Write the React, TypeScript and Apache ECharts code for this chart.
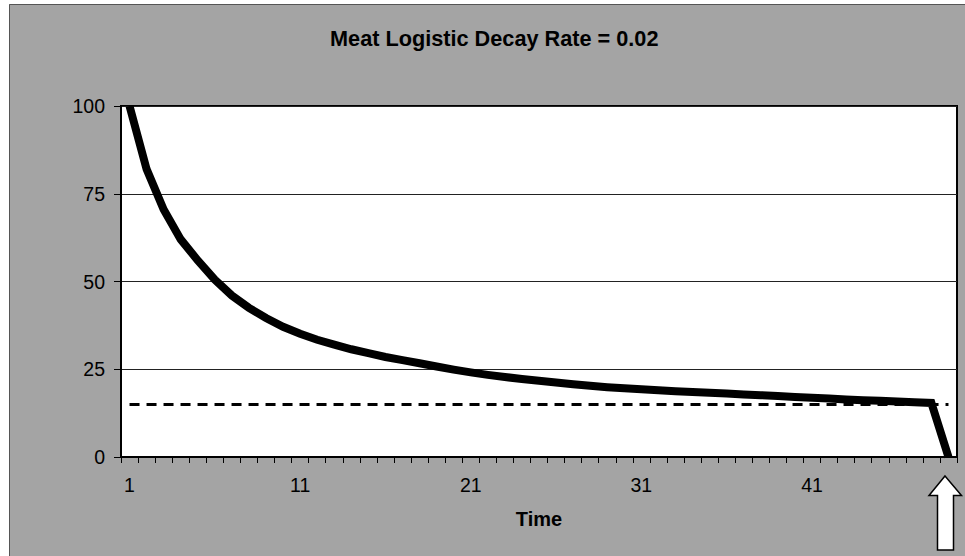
import React, { useEffect, useRef } from "react";
import * as echarts from "echarts";

const categories = [
  "1", "2", "3", "4", "5", "6", "7", "8", "9", "10",
  "11", "12", "13", "14", "15", "16", "17", "18", "19", "20",
  "21", "22", "23", "24", "25", "26", "27", "28", "29", "30",
  "31", "32", "33", "34", "35", "36", "37", "38", "39", "40",
  "41", "42", "43", "44", "45", "46", "47", "48", "49",
];

const meatValues = [
  100, 82, 70.5, 62, 56, 50.5, 46, 42.5, 39.6, 37.1,
  35.1, 33.4, 32, 30.7, 29.6, 28.5, 27.6, 26.7, 25.8, 24.9,
  24.1, 23.4, 22.8, 22.2, 21.7, 21.2, 20.7, 20.3, 19.9, 19.6,
  19.3, 19.0, 18.7, 18.5, 18.3, 18.1, 17.8, 17.6, 17.4, 17.1,
  16.9, 16.7, 16.4, 16.2, 16.0, 15.8, 15.6, 15.4, 0,
];

const thresholdValue = 15;
const yTicks = [0, 25, 50, 75, 100];
const titleText = "Meat Logistic Decay Rate = 0.02";
const xAxisName = "Time";

const FONT = "'Liberation Sans', Arial, sans-serif";
const BG = "#a4a4a4";

export default function App() {
  const ref = useRef<HTMLDivElement>(null);

  useEffect(() => {
    document.body.style.margin = "0";
    if (!ref.current) return;
    const chart = echarts.init(ref.current, undefined, { renderer: "svg" });
    chart.setOption({
      animation: false,
      backgroundColor: BG,
      textStyle: { fontFamily: FONT },
      title: {
        text: titleText,
        left: 330,
        top: 27,
        padding: 0,
        textStyle: {
          fontFamily: FONT,
          fontSize: 21.7,
          fontWeight: "bold",
          color: "#000",
        },
      },
      grid: {
        left: 121,
        top: 106,
        right: 8,
        bottom: 99,
        show: true,
        backgroundColor: "#ffffff",
        borderColor: "#000",
        borderWidth: 2,
      },
      xAxis: {
        type: "category",
        data: categories,
        boundaryGap: true,
        name: xAxisName,
        nameLocation: "middle",
        nameGap: 52,
        nameTextStyle: {
          fontFamily: FONT,
          fontSize: 20,
          fontWeight: "bold",
          color: "#000",
        },
        axisLine: { show: true, lineStyle: { color: "#000", width: 2 } },
        axisTick: {
          show: true,
          interval: 0,
          inside: false,
          length: 6,
          lineStyle: { color: "#000", width: 1 },
        },
        axisLabel: {
          interval: 9,
          margin: 18,
          fontFamily: FONT,
          fontSize: 19.5,
          color: "#000",
        },
        splitLine: { show: false },
      },
      yAxis: {
        type: "value",
        min: yTicks[0],
        max: yTicks[yTicks.length - 1],
        interval: 25,
        axisLine: { show: true, lineStyle: { color: "#000", width: 2 } },
        axisTick: {
          show: true,
          inside: false,
          length: 7,
          lineStyle: { color: "#000", width: 1 },
        },
        axisLabel: {
          margin: 16,
          fontFamily: FONT,
          fontSize: 19.5,
          color: "#000",
        },
        splitLine: { show: true, lineStyle: { color: "#222", width: 1 } },
      },
      series: [
        {
          type: "line",
          data: meatValues,
          symbol: "none",
          lineStyle: { color: "#000", width: 8, join: "miter" },
          markLine: {
            silent: true,
            symbol: "none",
            label: { show: false },
            lineStyle: { color: "#000", width: 3, type: [10, 7] },
            data: [
              [
                { coord: [categories[0], thresholdValue] },
                { coord: [categories[categories.length - 1], thresholdValue] },
              ],
            ],
            z: 1,
          },
          z: 3,
        },
      ],
      graphic: [
        {
          type: "rect",
          shape: { x: 0, y: 0, width: 965, height: 4 },
          style: { fill: "#ffffff" },
          z: 10,
        },
        {
          type: "rect",
          shape: { x: 0, y: 0, width: 9, height: 556 },
          style: { fill: "#ffffff" },
          z: 10,
        },
        {
          type: "polyline",
          shape: { points: [[9.5, 556], [9.5, 4.5], [965, 4.5]] },
          style: { stroke: "#555", lineWidth: 1, fill: null },
          z: 10,
        },
        {
          type: "polygon",
          shape: {
            points: [
              [945, 476],
              [961.5, 495.5],
              [953.5, 495.5],
              [953.5, 550],
              [937.5, 550],
              [937.5, 495.5],
              [929, 495.5],
            ],
          },
          style: { fill: "#ffffff", stroke: "#000", lineWidth: 1.5 },
          z: 10,
        },
      ],
    });
    return () => chart.dispose();
  }, []);

  return <div ref={ref} style={{ width: 965, height: 556 }} />;
}
